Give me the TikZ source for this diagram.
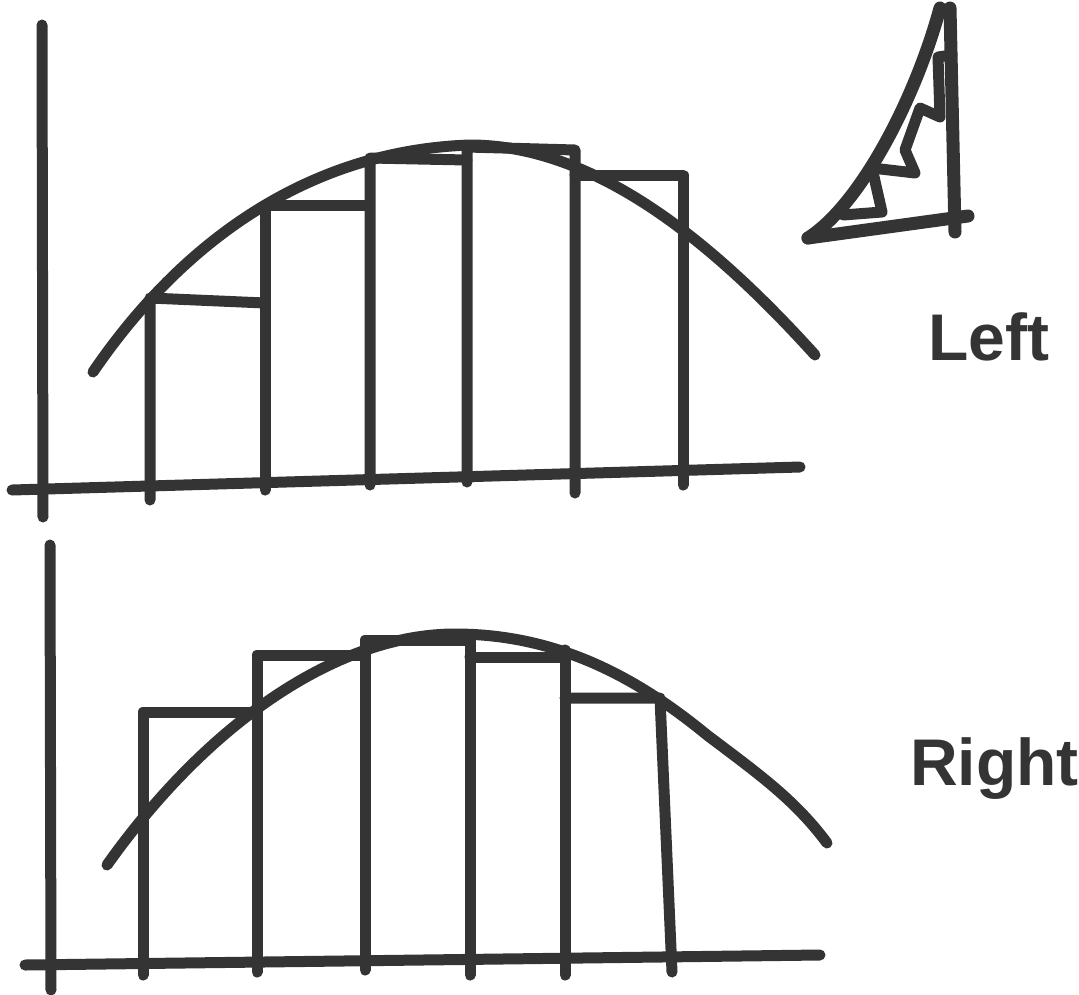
\documentclass[tikz,border=0pt]{standalone}
\usepackage{fontspec}
\newfontfamily\handfont{Liberation Sans}
\definecolor{ink}{RGB}{52,52,52}
\tikzset{
  pen/.style={draw=ink, line width=11pt, line cap=round, line join=round},
  handtext/.style={text=ink, font=\handfont\bfseries\fontsize{66}{66}\selectfont, inner sep=0pt, anchor=base west}
}
\begin{document}
\begin{tikzpicture}[x=1pt, y=-1pt]
  \useasboundingbox (0,0) rectangle (1079,994);

  % Upper plot: axes
  \coordinate (topYa) at (42,25);
  \coordinate (topYb) at (43,517);
  \coordinate (topXa) at (12,490);
  \coordinate (topXb) at (800,467);
  \draw[pen] (topYa) -- (topYb);
  \draw[pen] (topXa) -- (topXb);

  % Upper plot: curve
  \draw[pen] (93,372) .. controls (190,230) and (320,150) .. (470,145)
             .. controls (600,145) and (720,250) .. (815,355);

  % Upper plot: left sum
  \draw[pen] (150,500) -- (150,298) -- (265,303);
  \draw[pen] (265,490) -- (265,207);
  \draw[pen] (265,205) -- (365,205);
  \draw[pen] (370,485) -- (370,158) -- (467,160);
  \draw[pen] (467,482) -- (467,147) -- (575,150) -- (575,493);
  \draw[pen] (575,175) -- (683,175) -- (683,485);

  % Small sketch
  \draw[pen, line width=13pt] (950,8) -- (955,232);
  \draw[pen, line width=13pt] (808,238) -- (968,216);
  \draw[pen, line width=13pt] (808,238) .. controls (860,205) and (915,100) .. (940,8);
  \draw[pen] (843,215) -- (882,212) -- (872,168) -- (915,173) -- (905,150) -- (920,108) -- (940,117) -- (938,57) -- (952,55);

  % Lower plot: axes
  \coordinate (botYa) at (50,545);
  \coordinate (botYb) at (51,990);
  \coordinate (botXa) at (25,965);
  \coordinate (botXb) at (820,955);
  \draw[pen] (botYa) -- (botYb);
  \draw[pen] (botXa) -- (botXb);

  % Lower plot: curve
  \draw[pen] (107,865) .. controls (210,720) and (340,634) .. (455,634)
             .. controls (560,634) and (640,680) .. (707,735)
             .. controls (760,775) and (795,800) .. (827,843);

  % Lower plot: right sum
  \draw[pen] (143,975) -- (143,712) -- (257,712);
  \draw[pen] (257,972) -- (257,655) -- (365,655);
  \draw[pen] (365,970) -- (365,640) -- (470,640) -- (470,975);
  \draw[pen] (470,657) -- (565,657);
  \draw[pen] (565,975) -- (565,650);
  \draw[pen] (565,698) -- (660,698) -- (672,972);

  % Labels
  \node (left) at (928,360) [handtext] {Left};
  \node (right) at (910,785) [handtext] {Right};
\end{tikzpicture}
\end{document}
